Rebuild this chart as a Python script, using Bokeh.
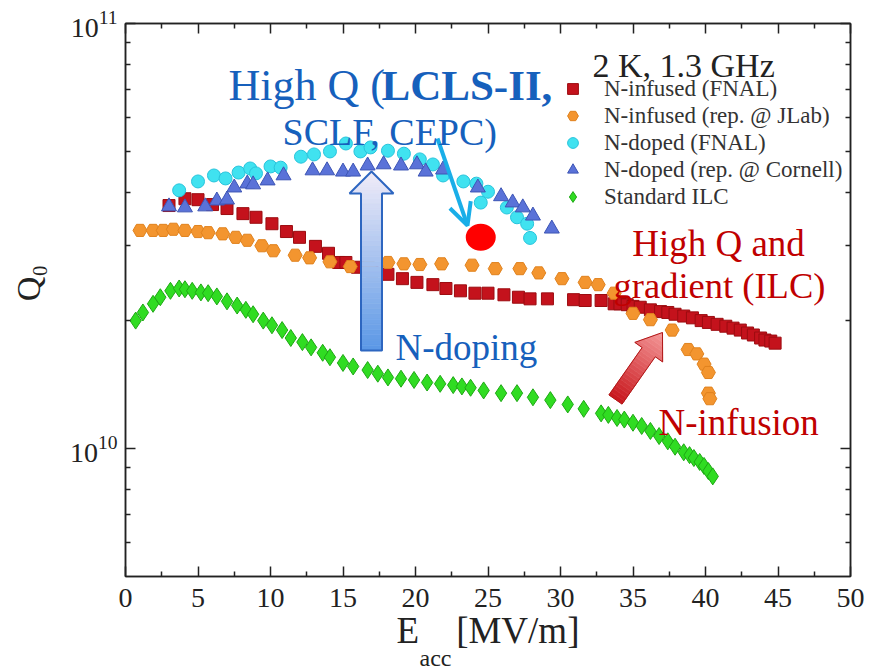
import numpy as np
from bokeh.plotting import figure
from bokeh.models import (Range1d, LinearAxis, LogAxis, FixedTicker, LogTickFormatter,
                          Label, Legend, LegendItem, Arrow, OpenHead, Title)
from bokeh.embed import file_html
from bokeh.resources import INLINE

# ---------------- data ----------------
infused_fnal_E = [3.0, 4.1, 5.0, 6.0, 7.0, 8.1, 9.0, 10.1, 11.1, 12.0, 13.1, 14.0, 14.7, 15.2, 16.0,
                  17.0, 18.1, 19.1, 20.1, 21.2, 22.1, 23.1, 24.1, 25.0, 26.1, 27.1, 27.9, 29.1, 30.9,
                  31.7, 32.8, 33.7, 34.1, 34.6, 35.0, 35.5, 36.2, 36.9, 37.4, 37.9, 38.5, 39.1, 39.7,
                  40.2, 40.8, 41.4, 41.9, 42.4, 42.9, 43.3, 43.8, 44.1, 44.5, 44.8]
infused_fnal_Q = [3.73e10, 3.87e10, 3.85e10, 3.75e10, 3.67e10, 3.57e10, 3.50e10, 3.38e10, 3.24e10,
                  3.14e10, 2.99e10, 2.88e10, 2.74e10, 2.74e10, 2.67e10, 2.62e10, 2.57e10, 2.51e10,
                  2.46e10, 2.43e10, 2.38e10, 2.35e10, 2.32e10, 2.32e10, 2.30e10, 2.27e10, 2.25e10,
                  2.25e10, 2.24e10, 2.23e10, 2.23e10, 2.19e10, 2.19e10, 2.18e10, 2.16e10, 2.15e10,
                  2.12e10, 2.10e10, 2.09e10, 2.07e10, 2.05e10, 2.03e10, 2.00e10, 1.98e10, 1.96e10,
                  1.94e10, 1.92e10, 1.90e10, 1.87e10, 1.85e10, 1.82e10, 1.80e10, 1.79e10, 1.77e10]

infused_jlab_E = [1.0, 1.9, 2.6, 3.3, 4.1, 5.0, 5.7, 6.7, 7.6, 8.4, 9.4, 10.2, 11.7, 12.7, 14.1, 15.5,
                  16.8, 18.1, 19.2, 20.3, 21.8, 23.9, 25.5, 27.2, 28.5, 30.1, 31.7, 32.6, 33.7, 35.0,
                  36.2, 37.7, 38.8, 39.4, 39.9, 40.2, 40.2, 40.3]
infused_jlab_Q = [3.26e10, 3.26e10, 3.26e10, 3.28e10, 3.26e10, 3.24e10, 3.22e10, 3.20e10, 3.14e10,
                  3.09e10, 3.00e10, 2.92e10, 2.85e10, 2.81e10, 2.75e10, 2.68e10, 2.70e10, 2.74e10,
                  2.72e10, 2.71e10, 2.72e10, 2.70e10, 2.65e10, 2.65e10, 2.59e10, 2.51e10, 2.46e10,
                  2.43e10, 2.32e10, 2.08e10, 2.01e10, 1.90e10, 1.71e10, 1.67e10, 1.58e10, 1.51e10,
                  1.35e10, 1.31e10]

doped_fnal_E = [3.7, 5.0, 6.1, 6.9, 7.8, 8.6, 9.0, 10.0, 10.7, 12.1, 13.0, 14.1, 15.2, 16.2, 16.9,
                18.1, 19.2, 20.3, 21.2, 21.9, 23.3, 24.2, 25.0, 24.5, 26.3, 27.0, 27.7, 27.9]
doped_fnal_Q = [4.05e10, 4.25e10, 4.39e10, 4.32e10, 4.46e10, 4.56e10, 4.44e10, 4.61e10, 4.58e10,
                4.86e10, 4.92e10, 5.00e10, 5.22e10, 5.00e10, 5.11e10, 5.02e10, 4.94e10, 4.79e10,
                4.66e10, 4.39e10, 4.25e10, 4.20e10, 4.02e10, 3.79e10, 3.69e10, 3.50e10, 3.38e10,
                3.13e10]

doped_cornell_E = [3.0, 4.1, 5.5, 6.3, 7.0, 7.5, 8.4, 8.8, 9.8, 10.9, 12.9, 13.9, 15.0, 15.7, 16.7,
                   17.8, 19.0, 20.1, 20.7, 21.9, 24.3, 25.9, 26.7, 27.4, 28.1, 29.4]
doped_cornell_Q = [3.71e10, 3.69e10, 3.71e10, 3.83e10, 3.85e10, 4.11e10, 4.20e10, 4.18e10, 4.27e10,
                   4.39e10, 4.51e10, 4.51e10, 4.48e10, 4.48e10, 4.63e10, 4.66e10, 4.63e10, 4.66e10,
                   4.48e10, 4.53e10, 4.11e10, 3.92e10, 3.79e10, 3.69e10, 3.53e10, 3.29e10]

ilc_E = [0.7, 1.2, 1.9, 2.4, 3.1, 3.7, 4.1, 4.6, 5.2, 5.7, 6.3, 7.0, 7.7, 8.3, 8.8, 9.5, 10.1, 10.8,
         11.4, 12.2, 12.8, 13.6, 14.1, 15.0, 15.7, 16.7, 17.4, 18.1, 19.0, 19.9, 20.8, 21.7, 22.6,
         23.2, 23.8, 24.7, 25.9, 27.0, 28.1, 29.3, 30.5, 31.6, 32.8, 33.3, 33.9, 34.4, 35.0, 35.6,
         36.2, 36.8, 37.4, 37.9, 38.5, 38.9, 39.2, 39.6, 39.9, 40.2, 40.5]
ilc_Q = [2.00e10, 2.09e10, 2.19e10, 2.27e10, 2.35e10, 2.38e10, 2.37e10, 2.35e10, 2.33e10, 2.32e10,
         2.28e10, 2.22e10, 2.17e10, 2.12e10, 2.07e10, 2.00e10, 1.95e10, 1.90e10, 1.82e10, 1.78e10,
         1.73e10, 1.68e10, 1.64e10, 1.59e10, 1.56e10, 1.53e10, 1.50e10, 1.47e10, 1.46e10, 1.45e10,
         1.43e10, 1.42e10, 1.41e10, 1.40e10, 1.39e10, 1.37e10, 1.35e10, 1.35e10, 1.32e10, 1.30e10,
         1.27e10, 1.24e10, 1.21e10, 1.20e10, 1.18e10, 1.17e10, 1.15e10, 1.13e10, 1.10e10, 1.07e10,
         1.04e10, 1.01e10, 0.98e10, 0.965e10, 0.95e10, 0.93e10, 0.91e10, 0.885e10, 0.86e10]

series_labels = ["N-infused (FNAL)", "N-infused (rep. @ JLab)", "N-doped (FNAL)",
                 "N-doped (rep. @ Cornell)", "Standard ILC"]

x_major = [0, 5, 10, 15, 20, 25, 30, 35, 40, 45, 50]
x_minor = [2.5, 7.5, 12.5, 17.5, 22.5, 27.5, 32.5, 37.5, 42.5, 47.5]
y_major = [1e10, 1e11]
y_minor = [6e9, 7e9, 8e9, 9e9, 2e10, 3e10, 4e10, 5e10, 6e10, 7e10, 8e10, 9e10]

highlight_E, highlight_Q = [24.5], [3.14e10]

# ---------------- figure ----------------
W, H = 873, 669
L, R, T, B = 125, 23, 23, 93
X0, X1 = 0, 50
Y0, Y1 = 5e9, 1e11
FONT = "Liberation Serif"
AX = "#222222"
NB = "\u00a0"

p = figure(width=W, height=H, x_range=Range1d(X0, X1), y_range=Range1d(Y0, Y1),
           y_axis_type="log", output_backend="svg", toolbar_location=None,
           min_border_left=L, min_border_right=R, min_border_top=T, min_border_bottom=B,
           background_fill_color="white", border_fill_color="white")
p.grid.visible = False
p.outline_line_color = AX
p.outline_line_width = 1.5

FW, FH = W - L - R, H - T - B
LY0, LY1 = np.log10(Y0), np.log10(Y1)


def px(xp, yp):
    """pixel position of the page -> data coordinates (for annotations)"""
    return (X0 + (xp - L) / FW * (X1 - X0), 10 ** (LY1 - (yp - T) / FH * (LY1 - LY0)))


xt = FixedTicker(ticks=x_major, minor_ticks=x_minor)
yt = FixedTicker(ticks=y_major, minor_ticks=y_minor)


def style(ax, labels=True):
    ax.major_tick_in = 10
    ax.major_tick_out = 0
    ax.minor_tick_in = 5
    ax.minor_tick_out = 0
    ax.axis_line_color = AX
    ax.axis_line_width = 1.5
    ax.major_tick_line_color = AX
    ax.major_tick_line_width = 1.5
    ax.minor_tick_line_color = AX
    ax.minor_tick_line_width = 1.5
    ax.major_label_text_font = FONT
    ax.major_label_text_color = AX
    ax.major_label_text_font_size = "28px"
    ax.axis_label_text_font = FONT
    ax.axis_label_text_font_style = "normal"
    ax.axis_label_text_color = AX
    if not labels:
        ax.major_label_text_color = None
        ax.major_label_text_font_size = "2px"
        ax.major_label_standoff = 0


xa = p.xaxis[0]
xa.ticker = xt
style(xa)
xa.major_label_standoff = 12
xa.axis_label = "E" + NB * 4 + "[MV/m]"
xa.axis_label_text_font_size = "37px"
xa.axis_label_standoff = 0

ya = p.yaxis[0]
ya.ticker = yt
ya.formatter = LogTickFormatter()
style(ya)
ya.major_label_standoff = 8
ya.axis_label = NB * 4 + "Q\u2080"
ya.axis_label_text_font_size = "34px"
ya.axis_label_standoff = 20

# subscript of E_acc
p.add_layout(Title(text="acc", align="left", offset=294, standoff=-22,
                   text_font=FONT, text_font_size="24px", text_font_style="normal",
                   text_color=AX), "below")

top = LinearAxis(ticker=xt)
style(top, labels=False)
p.add_layout(top, "above")
right = LogAxis(ticker=yt)
style(right, labels=False)
p.add_layout(right, "right")

# ---------------- series ----------------
r1 = p.scatter(infused_fnal_E, infused_fnal_Q, marker="square", size=12,
               fill_color="#c4121c", line_color="#9c0c10", line_width=1)
r2 = p.scatter(infused_jlab_E, infused_jlab_Q, marker="hex", size=14,
               fill_color="#f3952f", line_color="#e0821e", line_width=1)
r3 = p.scatter(doped_fnal_E, doped_fnal_Q, marker="circle", size=13,
               fill_color="#40e2f0", line_color="#28c4dc", line_width=1)
r4 = p.scatter(doped_cornell_E, doped_cornell_Q, marker="triangle", size=15,
               fill_color="#5a72d8", line_color="#3d55b5", line_width=1)
r5 = p.scatter(ilc_E, ilc_Q, marker="diamond", size=17,
               fill_color="#30dc22", line_color="#1ea814", line_width=1)

legend = Legend(items=[LegendItem(label=lab_, renderers=[r]) for lab_, r in
                       zip(series_labels, [r1, r2, r3, r4, r5])],
                location=(434, 366), orientation="vertical",
                glyph_width=27, glyph_height=27, label_height=27, spacing=0,
                padding=0, margin=0, label_standoff=18, border_line_color=None,
                background_fill_alpha=0, label_text_font=FONT,
                label_text_font_size="23px", label_text_color="#333333")
p.add_layout(legend)

# ---------------- annotations ----------------
def lab(text, xp, yp, size, color, style="normal", align="left", angle=0.0):
    x, y = px(xp, yp)
    p.add_layout(Label(x=float(x), y=float(y), text=text, text_font=FONT,
                       text_font_size=f"{size}px", text_color=color,
                       text_font_style=style, text_align=align,
                       text_baseline="alphabetic", angle=float(angle)))


lab("2 K, 1.3 GHz", 592, 65, 34, AX)

BLUE = "#1660bc"
DRED = "#c00000"


def mix(c1, c2, t):
    a = [int(c1[i:i + 2], 16) for i in (1, 3, 5)]
    b = [int(c2[i:i + 2], 16) for i in (1, 3, 5)]
    return "#%02x%02x%02x" % tuple(int(round(a[k] + (b[k] - a[k]) * t)) for k in range(3))


# blue gradient arrow (N-doping)
tip_y, base_y, bot_y = 171.0, 193.0, 350.0
cx, shaft_hw, head_hw = 371.0, 10.5, 22.0
bxs, bys, bcols = [], [], []
head_lv = np.linspace(tip_y, base_y, 7)
for ya_, yb_ in zip(head_lv[:-1], head_lv[1:]):
    wa = head_hw * (ya_ - tip_y) / (base_y - tip_y)
    wb = head_hw * (yb_ - tip_y) / (base_y - tip_y)
    pts = [(cx - wa, ya_), (cx + wa, ya_), (cx + wb, yb_), (cx - wb, yb_)]
    d = [px(a, b) for a, b in pts]
    bxs.append([float(q[0]) for q in d])
    bys.append([float(q[1]) for q in d])
    bcols.append(mix("#f1ecf8", "#5a97e6", ((ya_ + yb_) / 2 - tip_y) / (bot_y - tip_y)))
shaft_lv = np.linspace(base_y, bot_y, 31)
for ya_, yb_ in zip(shaft_lv[:-1], shaft_lv[1:]):
    pts = [(cx - shaft_hw, ya_), (cx + shaft_hw, ya_), (cx + shaft_hw, yb_), (cx - shaft_hw, yb_)]
    d = [px(a, b) for a, b in pts]
    bxs.append([float(q[0]) for q in d])
    bys.append([float(q[1]) for q in d])
    bcols.append(mix("#f1ecf8", "#5a97e6", ((ya_ + yb_) / 2 - tip_y) / (bot_y - tip_y)))
p.patches(bxs, bys, fill_color=bcols, line_color=bcols, line_width=0.6)
outline = [(cx, tip_y), (cx + head_hw, base_y), (cx + shaft_hw, base_y), (cx + shaft_hw, bot_y),
           (cx - shaft_hw, bot_y), (cx - shaft_hw, base_y), (cx - head_hw, base_y)]
od = [px(a, b) for a, b in outline]
p.patch([float(q[0]) for q in od], [float(q[1]) for q in od], fill_color=None,
        line_color="#2d66c0", line_width=2)

# red gradient arrow (N-infusion)
t0 = np.array([615.0, 399.0])
tp = np.array([662.0, 332.0])
u = (tp - t0) / np.linalg.norm(tp - t0)
nrm = np.array([u[1], -u[0]])
Ltot = float(np.linalg.norm(tp - t0))
hl, shw, hhw = 24.0, 8.0, 17.0
neck = Ltot - hl
rxs, rys, rcols = [], [], []
sh_lv = np.linspace(0, neck, 16)
for sa, sb in zip(sh_lv[:-1], sh_lv[1:]):
    pts = [t0 + u * sa + nrm * shw, t0 + u * sb + nrm * shw, t0 + u * sb - nrm * shw, t0 + u * sa - nrm * shw]
    d = [px(q[0], q[1]) for q in pts]
    rxs.append([float(q[0]) for q in d])
    rys.append([float(q[1]) for q in d])
    rcols.append(mix("#c8161c", "#f49898", ((sa + sb) / 2) / Ltot))
hd_lv = np.linspace(neck, Ltot, 7)
for sa, sb in zip(hd_lv[:-1], hd_lv[1:]):
    wa = hhw * (Ltot - sa) / hl
    wb = hhw * (Ltot - sb) / hl
    pts = [t0 + u * sa + nrm * wa, t0 + u * sb + nrm * wb, t0 + u * sb - nrm * wb, t0 + u * sa - nrm * wa]
    d = [px(q[0], q[1]) for q in pts]
    rxs.append([float(q[0]) for q in d])
    rys.append([float(q[1]) for q in d])
    rcols.append(mix("#c8161c", "#f49898", ((sa + sb) / 2) / Ltot))
p.patches(rxs, rys, fill_color=rcols, line_color=rcols, line_width=0.6)
rout = [t0 + nrm * shw, t0 + u * neck + nrm * shw, t0 + u * neck + nrm * hhw, tp,
        t0 + u * neck - nrm * hhw, t0 + u * neck - nrm * shw, t0 - nrm * shw]
rd = [px(q[0], q[1]) for q in rout]
p.patch([float(q[0]) for q in rd], [float(q[1]) for q in rd], fill_color=None,
        line_color="#b01515", line_width=1)

# highlighted point and cyan arrow
p.ellipse(highlight_E, highlight_Q, width=30, height=27, width_units="screen",
          height_units="screen", fill_color="#ff0000", line_color=None)
sx_, sy_ = px(437, 138)
ex_, ey_ = px(467, 225)
CY = "#1aaee8"
p.add_layout(Arrow(end=OpenHead(size=22, line_color=CY, line_width=4),
                   x_start=float(sx_), y_start=float(sy_), x_end=float(ex_), y_end=float(ey_),
                   line_color=CY, line_width=4))

# slide texts
lab("High Q (", 228, 85, 44, BLUE)
lab("LCLS-II,", 381, 85, 43, BLUE, style="bold")
lab("SCLF, CEPC)", 282, 131.7, 38, BLUE)
lab("N-doping", 395, 346.7, 37, BLUE)
lab("High Q and", 718, 243.3, 37, DRED, align="center")
lab("gradient (ILC)", 719, 285, 36.5, DRED, align="center")
lab("N-infusion", 658, 421.7, 37, DRED)

open("out.html", "w").write(file_html(p, INLINE))
